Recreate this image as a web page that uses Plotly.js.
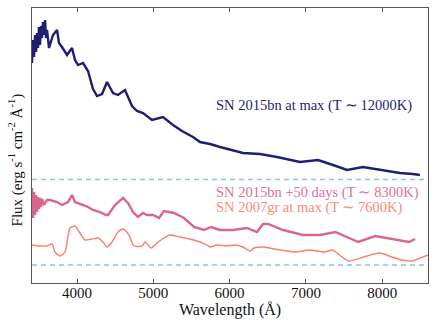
<!DOCTYPE html>
<html>
<head>
<meta charset="utf-8">
<script src="https://cdn.plot.ly/plotly-3.0.1.min.js"></script>
<style>
  body { margin: 0; background: #fff; }
  #fig { width: 436px; height: 327px; }
</style>
</head>
<body>
<div id="fig"></div>
<script>
// spectra, offset flux in arbitrary units
const wlMax = [3410, 3423, 3436, 3450, 3463, 3476, 3489, 3502, 3515, 3528, 3541, 3554, 3567, 3581, 3594, 3607, 3633,
  3685, 3738, 3764, 3803, 3869, 3934, 3974, 4013, 4079, 4144, 4210, 4262, 4328, 4393, 4472, 4537, 4629, 4721,
  4786, 4865, 4983, 5127, 5258, 5376, 5520, 5612, 5743, 5874, 6176, 6398, 6621, 6923, 7159, 7355, 7539, 7748,
  7932, 8233, 8400, 8495];
const fluxMax = [22.0, 24.3, 22.6, 24.8, 23.1, 25.0, 23.5, 25.6, 23.8, 25.7, 24.5, 26.1, 24.8, 26.3, 24.5, 25.3, 23.5,
  24.8, 25.3, 24.0, 23.6, 22.8, 23.5, 22.3, 21.8, 22.0, 21.2, 19.4, 18.7, 18.9, 20.1, 19.0, 18.8, 19.3, 17.7,
  17.2, 17.0, 16.3, 16.6, 15.8, 15.2, 14.6, 14.1, 13.9, 13.6, 13.0, 12.9, 12.6, 12.1, 12.3, 11.8, 11.3, 11.6,
  11.4, 11.0, 10.9, 10.8];

const wl50 = [3410, 3423, 3436, 3450, 3463, 3476, 3489, 3502, 3515, 3528, 3541, 3567, 3607, 3646, 3738, 3803,
  3882, 3934, 3974, 4000, 4079, 4144, 4210, 4301, 4380, 4406, 4498, 4603, 4668, 4734, 4799, 4865, 4917, 4996,
  5075, 5140, 5271, 5402, 5533, 5664, 5756, 5874, 6045, 6228, 6359, 6438, 6504, 6700, 6962, 7185, 7385, 7539,
  7686, 7909, 8181, 8351, 8430];
const flux50 = [9.5, 6.5, 9.1, 6.8, 8.8, 7.1, 8.6, 7.4, 8.5, 7.6, 8.4, 7.8, 8.3, 8.3, 8.1, 7.8, 8.1, 8.8, 8.1,
  8.0, 7.8, 7.6, 7.3, 7.1, 6.8, 6.8, 7.8, 8.5, 8.0, 7.1, 6.6, 7.0, 6.8, 6.8, 6.5, 7.2, 7.0, 6.5, 5.6, 5.3,
  5.6, 5.3, 5.3, 5.5, 5.1, 5.9, 5.9, 5.3, 4.8, 4.8, 5.1, 4.6, 4.1, 4.7, 4.3, 4.1, 4.4];

const wl07 = [3410, 3515, 3607, 3672, 3711, 3777, 3843, 3908, 3974, 4039, 4105, 4196, 4275, 4340, 4393, 4459,
  4537, 4603, 4681, 4747, 4852, 4891, 4930, 4970, 5049, 5140, 5218, 5350, 5533, 5703, 5743, 5835, 5962, 6084,
  6175, 6267, 6320, 6441, 6586, 6848, 7054, 7237, 7342, 7394, 7457, 7565, 7800, 7972, 8123, 8260, 8390, 8600];
const flux07 = [3.8, 3.7, 3.7, 3.9, 3.1, 2.7, 3.1, 5.5, 5.7, 5.0, 4.3, 4.4, 4.5, 4.1, 3.6, 4.1, 5.1, 5.4, 4.8,
  3.7, 3.7, 4.1, 3.8, 3.5, 4.0, 4.5, 4.8, 4.6, 4.3, 3.8, 3.6, 3.8, 3.7, 3.8, 3.6, 3.2, 3.5, 3.6, 3.4, 3.1,
  3.3, 3.1, 3.3, 3.1, 2.7, 2.2, 2.7, 3.0, 2.6, 2.3, 2.2, 2.8];

const baselines = [10.35, 1.8];

const labels = [
  { text: 'SN 2015bn at max (T\u202f\u223c\u202f12000K)', color: '#1f1f72', y: 17.8 },
  { text: 'SN 2015bn +50 days (T\u202f\u223c\u202f8300K)', color: '#e0709a', y: 9.05 },
  { text: 'SN 2007gr at max (T\u202f\u223c\u202f7600K)', color: '#fb8a78', y: 7.6 }
];

const serif = 'Liberation Serif';

const traces = [
  { x: wlMax, y: fluxMax, mode: 'lines', line: { color: '#1f1f72', width: 2.4 } },
  { x: wl50, y: flux50, mode: 'lines', line: { color: '#d9668f', width: 2.4 } },
  { x: wl07, y: flux07, mode: 'lines', line: { color: '#fa7f6e', width: 1.4, shape: 'spline', smoothing: 0.6 } }
].map(t => Object.assign({ type: 'scatter', hoverinfo: 'skip' }, t));

const shapes = baselines.map(b => ({
  type: 'line', xref: 'paper', x0: 0, x1: 1, yref: 'y', y0: b, y1: b,
  line: { color: '#8fc3e3', width: 1.3, dash: '5px,4px' }
}));

const annotations = labels.map(l => ({
  text: l.text, xref: 'x', yref: 'y', x: 5790, y: l.y, xanchor: 'left', yanchor: 'middle',
  showarrow: false, font: { family: serif, size: 14.5, color: l.color }
}));
annotations.push({
  text: 'Flux (erg s<sup>-1</sup> cm<sup>-2</sup> Å<sup>-1</sup>)',
  xref: 'paper', yref: 'paper', x: -0.042, y: 0.447, xanchor: 'center', yanchor: 'middle',
  textangle: -90, showarrow: false, font: { family: serif, size: 15, color: '#111' }
});

Plotly.newPlot('fig', traces, {
  width: 436,
  height: 327,
  showlegend: false,
  paper_bgcolor: '#fff',
  plot_bgcolor: '#fff',
  margin: { l: 32, r: 8, t: 8, b: 44 },
  font: { family: serif, size: 15, color: '#111' },
  xaxis: {
    range: [3410, 8600],
    tickvals: [4000, 5000, 6000, 7000, 8000],
    ticks: 'inside',
    ticklen: 4,
    tickcolor: '#555',
    showline: true,
    linecolor: '#555',
    linewidth: 1.3,
    mirror: 'ticks',
    showgrid: false,
    zeroline: false,
    ticklabelstandoff: -4,
    tickfont: { family: serif, size: 15 },
    title: { text: 'Wavelength (Å)', font: { family: serif, size: 16 }, standoff: 2 }
  },
  yaxis: {
    range: [0, 27.5],
    showticklabels: false,
    ticks: '',
    showline: true,
    linecolor: '#555',
    linewidth: 1.3,
    mirror: true,
    showgrid: false,
    zeroline: false
  },
  shapes: shapes,
  annotations: annotations
}, { staticPlot: true });
</script>
</body>
</html>
